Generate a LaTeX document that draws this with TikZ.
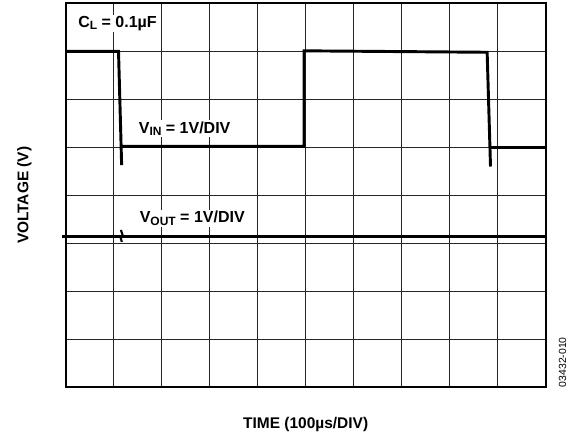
\documentclass[tikz,border=0pt]{standalone}
\usepackage{fontspec}
\setmainfont{Liberation Sans}
\newcommand{\lsub}[1]{\raisebox{-0.3ex}{\fontsize{9}{10}\selectfont #1}}
\begin{document}
\begin{tikzpicture}[x=36pt,y=36pt,
  gridline/.style={black!85,line width=0.8pt},
  frame/.style={line width=1.4pt},
  trace/.style={line width=2.2pt,line join=miter},
  lbl/.style={fill=white,inner sep=1pt,anchor=base west,font=\fontsize{12}{14}\selectfont\bfseries},
  axislbl/.style={font=\fontsize{11.6}{14}\selectfont\bfseries}]
  \useasboundingbox (-1.369,-1.098) rectangle (10.652,8.069);
  \draw[gridline,step=1] (0,0) grid (10,8);
  \draw[frame] (0,0) rectangle (10,8);
  % input step
  \draw[trace] (0,7) -- (1.10,7) -- (1.165,4.63);
  \draw[trace] (1.15,5.02) -- (4.965,5.02) -- (4.965,7.01) -- (8.78,6.98) -- (8.85,4.6);
  \draw[trace] (8.84,5.0) -- (10,5.0);
  % output
  \draw[trace] (-0.08,3.15) -- (10,3.15);
  \draw[line width=1.6pt] (1.15,3.28) -- (1.19,3.16) -- (1.14,3.13) -- (1.17,3.03);
  % labels
  \node[lbl] (cl) at (0.229,7.5) {C\lsub{L} = 0.1µF};
  \node[lbl] (vin) at (1.49,5.29) {V\lsub{IN} = 1V/DIV};
  \node[lbl] (vout) at (1.51,3.43) {V\lsub{OUT} = 1V/DIV};
  \node[axislbl] (time) at (5,-0.785) {TIME (100µs/DIV)};
  \node[axislbl,rotate=90] (volt) at (-0.86,4) {VOLTAGE (V)};
  \node[rotate=90,anchor=west,inner sep=0pt,font=\fontsize{7.8}{9}\selectfont] (code) at (10.35,0) {03432-010};
\end{tikzpicture}
\end{document}
